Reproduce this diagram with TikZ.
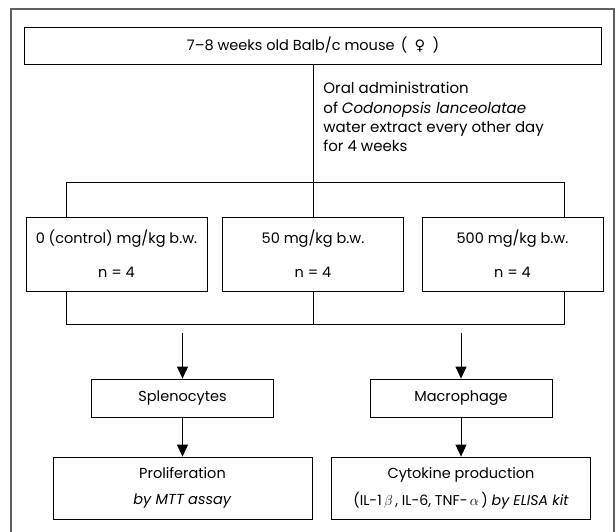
\documentclass[tikz,border=0pt]{standalone}
\usepackage{fontspec}
\setmainfont{Poppins}
\newfontfamily\symfont{DejaVu Sans}
\usetikzlibrary{
    arrows.meta,
    calc,
    positioning
}
\tikzset{
    >={Triangle[length=12pt, width=11pt]},
    box/.style={draw, line width=0.8pt, inner sep=0pt, align=center, font=\fontsize{14.5}{17}\selectfont},
    dosebox/.style={box, minimum width=181pt, minimum height=74pt},
    cellbox/.style={box, minimum width=182pt, minimum height=38pt},
    assaybox/.style={box, minimum width=259pt, minimum height=62pt}
}

\begin{document}
\begin{tikzpicture}[x=1pt, y=-1pt, line width=0.8pt]
    \useasboundingbox (0, 0) rectangle (616, 532);
    \draw[gray!75!black, line width=1.1pt] (11, 532) -- (11, 9) -- (614, 9) -- (614, 532);
    \node[box, minimum width=577pt, minimum height=37pt] (mouse) at (313, 45.5) {7–8 weeks old Balb/c mouse \,(\enspace{\symfont ♀}\enspace)};
    \node[anchor=north west, inner sep=0pt, align=left, font=\fontsize{15}{19.3}\selectfont] (oral) at (323, 82)
        {Oral administration\\of \textit{Codonopsis lanceolatae}\\water extract every other day\\for 4 weeks};
    \node[dosebox] (dose0) at (116.5, 254) {0 (control) mg/kg b.w.\\[17pt]n = 4};
    \node[dosebox] (dose50) at (313, 254) {50 mg/kg b.w.\\[17pt]n = 4};
    \node[dosebox] (dose500) at (512.5, 254) {500 mg/kg b.w.\\[17pt]n = 4};
    \node[cellbox] (spleno) at (182.5, 398) {Splenocytes};
    \node[cellbox] (macro) at (461, 398) {Macrophage};
    \node[assaybox] (prolif) at (182.5, 488) {Proliferation\\[9pt]\textit{by MTT assay}};
    \node[assaybox] (cyto) at (461, 488) {Cytokine production\\[9pt]\fontsize{14.2}{17}\selectfont(IL-1\,$\beta$\,, IL-6, TNF-\,$\alpha$\,)\ \textit{by ELISA kit}};
    \coordinate (upL) at (66, 182);
    \coordinate (upR) at (564, 182);
    \coordinate (loL) at (66, 324);
    \coordinate (loR) at (564, 324);
    \coordinate (srcL) at (182.5, 333);
    \coordinate (srcR) at (461, 333);
    \draw
    (mouse.south) -- (dose50.north)
    (dose0.north -| upL) -- (upL) -- (upR) -- (dose500.north -| upR)
    (dose0.south -| loL) -- (loL) -- (loR) -- (dose500.south -| loR)
    (dose50.south) -- (dose50.south |- loL)
    (srcL) edge[->] (spleno)
    (srcR) edge[->] (macro)
    (spleno) edge[->] (prolif)
    (macro) edge[->] (cyto);
\end{tikzpicture}
\end{document}
